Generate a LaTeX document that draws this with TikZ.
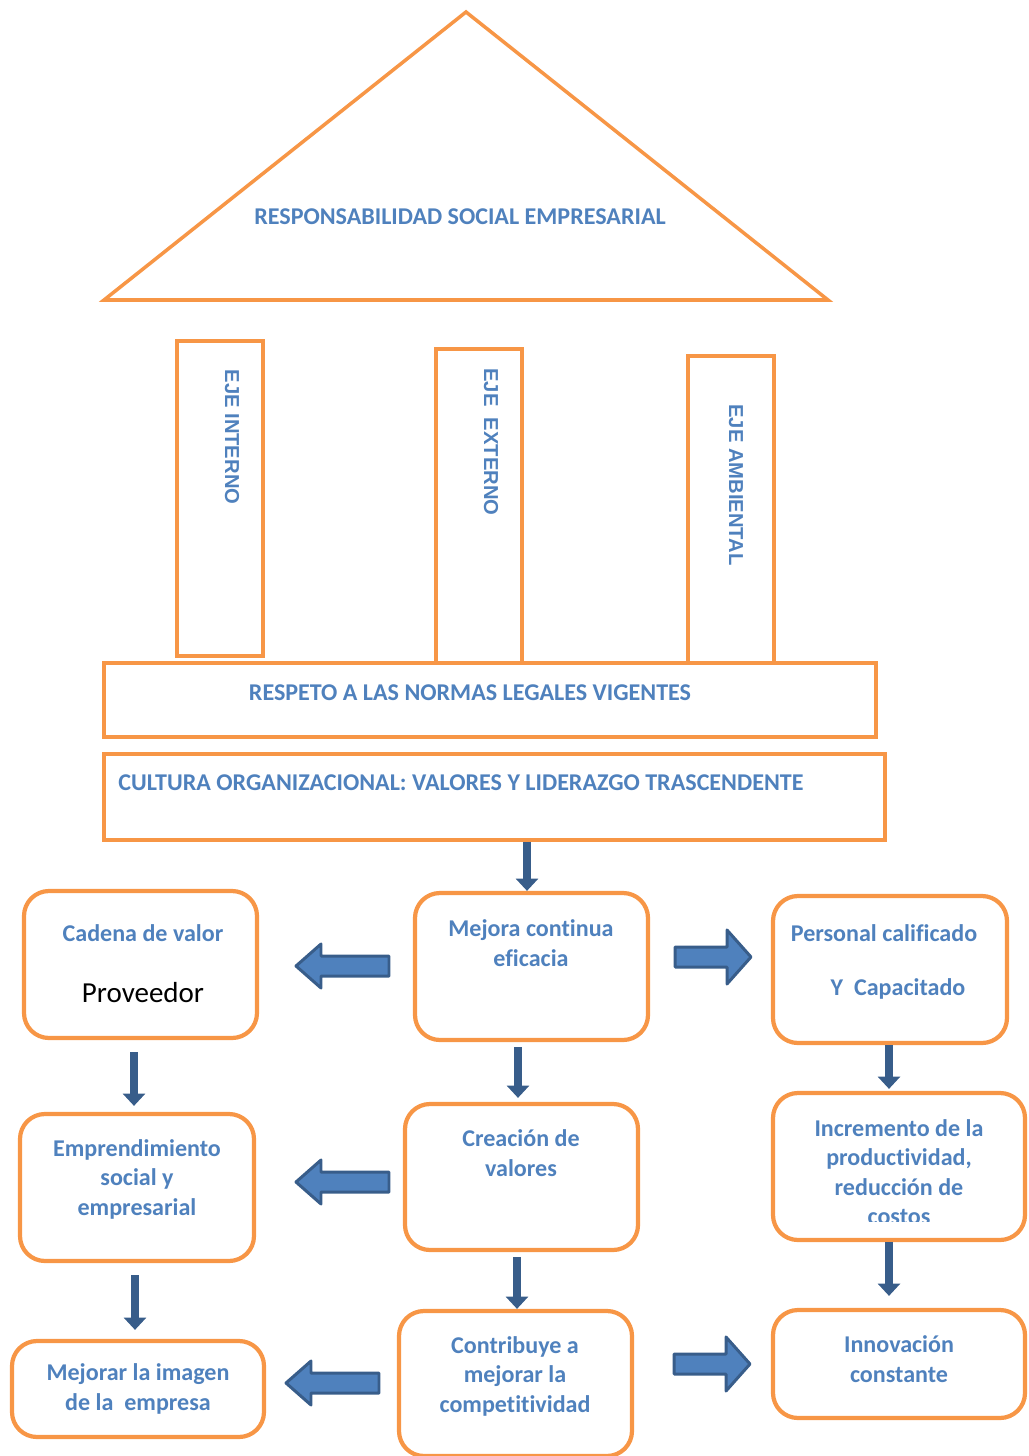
\documentclass[tikz,border=0pt]{standalone}
\usepackage{fontspec}
\setmainfont{Carlito}[Ligatures=NoCommon]
\newfontfamily\pilarfont{Liberation Sans}
\usetikzlibrary{arrows.meta,fit}

\definecolor{naranja}{HTML}{F79646}
\definecolor{azul}{HTML}{4F81BD}
\definecolor{azuloscuro}{HTML}{385D8A}

\tikzset{
    marco/.style={draw=naranja, line width=2pt, inner sep=0pt},
    caja/.style={draw=naranja, line width=2.4pt, rounded corners=0.5cm, inner sep=0pt},
    texto/.style={text=azul, font=\fontsize{13.7}{16.8}\selectfont\bfseries, align=center, inner sep=0pt},
    pilar/.style={text=azul, font=\pilarfont\fontsize{11.5}{14}\selectfont\bfseries, rotate=-90, inner sep=0pt},
    bajar/.style={draw=azuloscuro, line width=4.5pt, -{Triangle[width=12.5pt,length=7pt]}},
    bloque/.style={draw=azuloscuro, fill=azul, line width=1.7pt, line join=round},
    pics/izquierda/.style={code={
        \path[bloque] (0,0) -- (25,-22) -- (25,-10) -- (93,-10) -- (93,10) -- (25,10) -- (25,22) -- cycle;
    }},
    pics/derecha/.style={code={
        \path[bloque] (0,0) -- (-24,-27) -- (-24,-10) -- (-76,-10) -- (-76,10) -- (-24,10) -- (-24,27) -- cycle;
    }},
}

\begin{document}
\begin{tikzpicture}[x=0.02cm, y=-0.02cm]
    \useasboundingbox (0,0) rectangle (1028,1456);

    % techo
    \draw[marco, line join=miter] (466,12) -- (828,300) -- (104,300) -- cycle;
    \node[texto] (techo) at (460,217) {RESPONSABILIDAD SOCIAL EMPRESARIAL};

    % pilares
    \node[marco, fit={(177,341) (263,656)}] (interno) {};
    \node[marco, fit={(436,349) (522,663)}] (externo) {};
    \node[marco, fit={(688,356) (774,663)}] (ambiental) {};
    \node[pilar] (interno-t) at (232,437) {EJE INTERNO};
    \node[pilar] (externo-t) at (491,442) {EJE~~EXTERNO};
    \node[pilar] (ambiental-t) at (736,485) {EJE AMBIENTAL};

    % bases
    \node[marco, fill=white, fit={(104,663) (876,737)}] (respeto) {};
    \node[texto] (respeto-t) at (470,693) {RESPETO A LAS NORMAS LEGALES VIGENTES};
    \node[marco, fit={(104,754) (885,840)}] (cultura) {};
    \node[texto, anchor=west] (cultura-t) at (118,783) {CULTURA ORGANIZACIONAL: VALORES Y LIDERAZGO TRASCENDENTE};

    % cajas
    \node[caja, fit={(24,891) (257,1038)}] (cadena) {};
    \node[caja, fit={(415,893) (648,1040)}] (mejora) {};
    \node[caja, fit={(773,896) (1007,1043)}] (personal) {};
    \node[caja, fit={(20,1114) (254,1261)}] (emprende) {};
    \node[caja, fit={(405,1104) (638,1250)}] (creacion) {};
    \node[caja, fit={(773,1093) (1025,1240)}] (incremento) {};
    \node[caja, fit={(12,1341) (264,1437)}] (imagen) {};
    \node[caja, fit={(399,1311) (632,1456)}] (contribuye) {};
    \node[caja, fit={(773,1310) (1025,1418)}] (innovacion) {};

    \node[texto] (cadena-t) at (143,933) {Cadena de valor};
    \node[font=\fontsize{16.5}{20}\selectfont, inner sep=0pt] (proveedor) at (143,993) {Proveedor};
    \node[texto] (mejora-t) at (531,943) {Mejora continua\\eficacia};
    \node[texto] (personal-a) at (884,933) {Personal calificado};
    \node[texto] (personal-b) at (898,989) {Y~~Capacitado};
    \node[texto] (emprende-t) at (137,1179) {Emprendimiento\\social y\\empresarial};
    \node[texto] (creacion-t) at (521,1153) {Creación de\\valores};
    \begin{scope}
        \clip (773,1093) rectangle (1025,1221);
        \node[texto] (incremento-t) at (899,1172) {Incremento de la\\productividad,\\reducción de\\costos};
    \end{scope}
    \node[texto] (imagen-t) at (138,1389) {Mejorar la imagen\\de la~~empresa};
    \node[texto] (contribuye-t) at (515,1376) {Contribuye a\\mejorar la\\competitividad};
    \node[texto] (innovacion-t) at (899,1359) {Innovación\\constante};

    % flechas hacia abajo
    \draw[bajar] (cultura.south -| 527,0) -- (mejora.north -| 527,0);
    \draw[bajar, shorten <=2.4mm, shorten >=1.2mm] (cadena.south -| 134,0) -- (emprende.north -| 134,0);
    \draw[bajar, shorten <=1mm, shorten >=0.8mm] (mejora.south -| 518,0) -- (creacion.north -| 518,0);
    \draw[bajar, shorten >=0.4mm] (personal.south -| 889,0) -- (incremento.north -| 889,0);
    \draw[bajar, shorten <=2.4mm, shorten >=1.8mm] (emprende.south -| 135,0) -- (imagen.north -| 135,0);
    \draw[bajar, shorten <=1mm] (creacion.south -| 517,0) -- (contribuye.north -| 517,0);
    \draw[bajar, shorten >=2.4mm] (incremento.south -| 889,0) -- (innovacion.north -| 889,0);

    % flechas de bloque
    \pic at (296,966) {izquierda};
    \pic at (751,957) {derecha};
    \pic at (296,1182) {izquierda};
    \pic at (286,1383) {izquierda};
    \pic at (750,1364) {derecha};
\end{tikzpicture}
\end{document}
